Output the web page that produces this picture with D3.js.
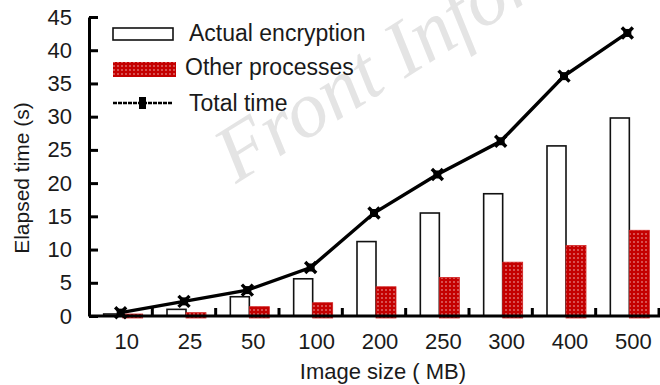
<!DOCTYPE html>
<html>
<head>
<meta charset="utf-8">
<script src="https://cdn.jsdelivr.net/npm/d3@7/dist/d3.min.js"></script>
<style>
  html, body { margin: 0; padding: 0; background: #fff; }
  svg { display: block; }
  text { font-family: "Liberation Sans", Arial, sans-serif; fill: #1a1a1a; }
</style>
</head>
<body>
<svg id="chart" width="660" height="385"></svg>
<script>
// Image sizes (MB) and the measured times in seconds
const categories = ["10", "25", "50", "100", "200", "250", "300", "400", "500"];
const actualEncryption = [0.3, 1.0, 2.9, 5.6, 11.2, 15.5, 18.4, 25.6, 29.8];
const otherProcesses = [0.3, 0.5, 1.4, 2.0, 4.4, 5.8, 8.1, 10.6, 12.9];
const totalTime = [0.5, 2.2, 3.9, 7.3, 15.5, 21.3, 26.3, 36.1, 42.6];
const yTicks = [0, 5, 10, 15, 20, 25, 30, 35, 40, 45];
const legendLabels = ["Actual encryption", "Other processes", "Total time"];

const svg = d3.select("#chart");
const plotLeft = 89, plotRight = 659, plotTop = 17, plotBottom = 316;

const x = d3.scaleBand().domain(categories).range([plotLeft, plotRight]).padding(0);
const y = d3.scaleLinear().domain([0, 45]).range([plotBottom, plotTop]);

// Stippled red fill for the "other processes" bars
const defs = svg.append("defs");
const pat = defs.append("pattern")
  .attr("id", "dots").attr("patternUnits", "userSpaceOnUse")
  .attr("width", 4).attr("height", 4);
pat.append("rect").attr("width", 4).attr("height", 4).attr("fill", "#c40000");
pat.append("circle").attr("cx", 2).attr("cy", 2).attr("r", 0.75).attr("fill", "#f4c8c8");

// Watermark
svg.append("text")
  .attr("transform", "translate(236,184) rotate(-32)")
  .style("font-family", "'Liberation Serif', 'DejaVu Serif', serif")
  .style("font-style", "italic")
  .style("font-size", "80px")
  .style("fill", "#e4e4e4")
  .text("Front Infor");

const bw = 19;
// Actual encryption: white bars left of centre
svg.append("g").selectAll("rect").data(categories).join("rect")
  .attr("x", d => x(d) + x.bandwidth() / 2 - 17)
  .attr("y", (d, i) => y(actualEncryption[i]))
  .attr("width", bw)
  .attr("height", (d, i) => y(0) - y(actualEncryption[i]))
  .attr("fill", "#fff").attr("stroke", "#111").attr("stroke-width", 1.6);

// Other processes: stippled red bars right of centre
svg.append("g").selectAll("rect").data(categories).join("rect")
  .attr("x", d => x(d) + x.bandwidth() / 2 + 2)
  .attr("y", (d, i) => y(otherProcesses[i]))
  .attr("width", bw + 1)
  .attr("height", (d, i) => y(0) - y(otherProcesses[i]) + 2)
  .attr("fill", "url(#dots)").attr("stroke", "#d02020").attr("stroke-width", 0.8);

// Y axis with inward ticks
const yAxis = svg.append("g").attr("transform", `translate(${plotLeft},0)`)
  .call(d3.axisLeft(y).tickValues(yTicks).tickSize(-9).tickPadding(17).tickSizeOuter(0));
yAxis.select(".domain").attr("stroke", "#000").attr("stroke-width", 3);
yAxis.selectAll(".tick line").attr("stroke", "#000").attr("stroke-width", 3);
yAxis.selectAll(".tick text").style("font-size", "22px").attr("fill", "#1a1a1a");

// X axis: category labels
const xAxis = svg.append("g").attr("transform", `translate(0,${plotBottom})`)
  .call(d3.axisBottom(x).tickSize(0).tickPadding(17).tickSizeOuter(0));
xAxis.select(".domain").attr("stroke", "#000").attr("stroke-width", 3)
  .attr("d", `M${plotLeft},0H${plotRight + 1}`);
xAxis.selectAll(".tick text").style("font-size", "22px").attr("fill", "#1a1a1a").attr("dx", 6);

// Separator ticks between categories, pointing up
const bounds = categories.slice(1).map(d => x(d)).concat([plotRight]);
svg.append("g").selectAll("line").data(bounds).join("line")
  .attr("x1", d => d).attr("x2", d => d)
  .attr("y1", plotBottom).attr("y2", plotBottom - 8)
  .attr("stroke", "#000").attr("stroke-width", 3);

// Total time line
const cx = d => x(d) + x.bandwidth() / 2;
const line = d3.line().x(d => cx(d)).y((d, i) => y(totalTime[i]));
svg.append("path").datum(categories)
  .attr("d", line).attr("fill", "none").attr("stroke", "#000").attr("stroke-width", 3.4);

function marker(g) {
  g.append("path").attr("d", "M-5.5,-5.5L5.5,5.5M-5.5,5.5L5.5,-5.5")
    .attr("stroke", "#000").attr("stroke-width", 3.4).attr("fill", "none");
  g.append("rect").attr("x", -4).attr("y", -4).attr("width", 8).attr("height", 8).attr("fill", "#000");
}
svg.append("g").selectAll("g").data(categories).join("g")
  .attr("transform", (d, i) => `translate(${cx(d)},${y(totalTime[i])})`)
  .each(function () { marker(d3.select(this)); });

// Axis titles
svg.append("text").attr("x", 383).attr("y", 379).attr("text-anchor", "middle")
  .style("font-size", "22px").text("Image size ( MB)");
svg.append("text").attr("transform", "translate(29,178) rotate(-90)")
  .attr("text-anchor", "middle").style("font-size", "21px").text("Elapsed time (s)");

// Legend
const lg = svg.append("g");
lg.append("rect").attr("x", 113).attr("y", 28).attr("width", 60).attr("height", 12)
  .attr("fill", "#fff").attr("stroke", "#111").attr("stroke-width", 1.6);
lg.append("rect").attr("x", 113).attr("y", 62).attr("width", 63).attr("height", 15)
  .attr("fill", "url(#dots)");
lg.append("line").attr("x1", 113).attr("x2", 173).attr("y1", 103).attr("y2", 103)
  .attr("stroke", "#000").attr("stroke-width", 2.5).attr("stroke-dasharray", "4,1");
lg.append("rect").attr("x", 139).attr("y", 97).attr("width", 7).attr("height", 12).attr("fill", "#000");
const ly = [41, 75, 111], lx = [189, 185, 189];
lg.selectAll("text.lab").data(legendLabels).join("text").attr("class", "lab")
  .attr("x", (d, i) => lx[i]).attr("y", (d, i) => ly[i])
  .style("font-size", "23px").text(d => d);
</script>
</body>
</html>
